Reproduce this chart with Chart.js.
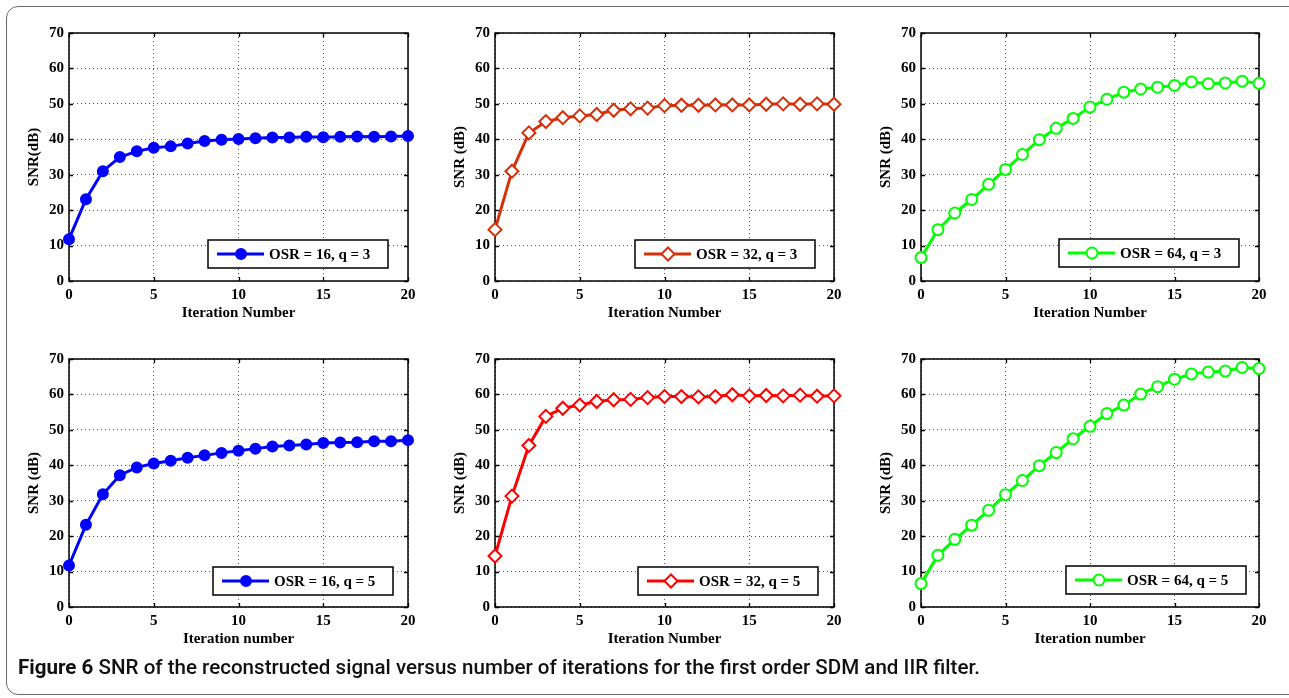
<!DOCTYPE html>
<html>
<head>
<meta charset="utf-8">
<script src="https://cdn.jsdelivr.net/npm/chart.js@4/dist/chart.umd.min.js"></script>
<style>
  html, body { margin:0; padding:0; background:#fff; width:1289px; height:698px; overflow:hidden; }
  #frame { position:absolute; left:6px; top:6px; width:1300px; height:689px; border:1.5px solid #6a6a6a; border-radius:12px; box-sizing:border-box; }
  canvas { position:absolute; }
  #caption { position:absolute; left:18px; top:655px; font-family:Roboto,"Noto Sans",sans-serif; font-size:21px; font-weight:500; color:#111; white-space:nowrap; transform-origin:0 0; }
  #caption b { font-weight:700; }
</style>
</head>
<body>
<div id="frame"></div>
<canvas id="c1"></canvas><canvas id="c2"></canvas><canvas id="c3"></canvas>
<canvas id="c4"></canvas><canvas id="c5"></canvas><canvas id="c6"></canvas>
<div id="caption"><b>Figure 6</b> SNR of the reconstructed signal versus number of iterations for the first order SDM and IIR filter.</div>
<script>
// ---- data ----
const iterations = [0,1,2,3,4,5,6,7,8,9,10,11,12,13,14,15,16,17,18,19,20];
const xTickValues = [0,5,10,15,20];
const yTickValues = [0,10,20,30,40,50,60,70];

const snrOsr16q3 = [11.8,23.1,31.0,35.0,36.6,37.6,38.0,38.8,39.5,39.9,40.1,40.3,40.5,40.5,40.7,40.6,40.7,40.8,40.7,40.8,40.9];
const snrOsr32q3 = [14.5,31.0,41.8,45.0,46.1,46.6,47.0,48.2,48.6,48.8,49.5,49.6,49.6,49.7,49.7,49.7,49.9,50.0,49.9,50.0,49.9];
const snrOsr64q3 = [6.6,14.5,19.2,23.0,27.3,31.5,35.7,39.9,43.1,45.9,49.1,51.3,53.3,54.2,54.7,55.2,56.2,55.7,55.9,56.4,55.8];
const snrOsr16q5 = [11.7,23.2,31.8,37.2,39.4,40.5,41.3,42.1,42.8,43.5,44.1,44.7,45.3,45.6,45.9,46.3,46.4,46.5,46.8,46.8,47.1];
const snrOsr32q5 = [14.4,31.3,45.6,53.8,56.1,57.0,58.0,58.5,58.6,59.1,59.4,59.4,59.3,59.4,59.9,59.6,59.7,59.6,59.8,59.5,59.6];
const snrOsr64q5 = [6.6,14.6,19.1,23.1,27.3,31.7,35.7,39.9,43.6,47.5,51.0,54.6,57.0,60.1,62.2,64.3,65.8,66.3,66.6,67.6,67.3];

const seriesLabels = ['OSR = 16, q = 3','OSR = 32, q = 3','OSR = 64, q = 3','OSR = 16, q = 5','OSR = 32, q = 5','OSR = 64, q = 5'];
const yTitles = ['SNR(dB)','SNR (dB)','SNR (dB)','SNR (dB)','SNR (dB)','SNR (dB)'];
const xTitles = ['Iteration Number','Iteration Number','Iteration Number','Iteration number','Iteration Number','Iteration number'];
const seriesValues = [snrOsr16q3, snrOsr32q3, snrOsr64q3, snrOsr16q5, snrOsr32q5, snrOsr64q5];

// ---- styles / layout ----
const styles = [
  {color:'#0000ff', marker:'circle', fill:'#0000ff', radius:5},
  {color:'#d6300a', marker:'rectRot', fill:'#ffffff', radius:6.5},
  {color:'#00ff00', marker:'circle', fill:'#ffffff', radius:5.5},
  {color:'#0000ff', marker:'circle', fill:'#0000ff', radius:5},
  {color:'#ff0000', marker:'rectRot', fill:'#ffffff', radius:6.5},
  {color:'#00ff00', marker:'circle', fill:'#ffffff', radius:5.5}
];
// chart area [left, top, right, bottom] in page pixels
const areas = [[69,33,408,281],[495,33,834,281],[921,33,1259,281],[69,359,408,607],[495,359,834,607],[921,359,1259,607]];
// legend box inset from chart area right / bottom
const legendInsets = [[20,13],[19,13],[20,14],[15,12],[16,12],[13,13]];
const PAD_L = 60, PAD_T = 25, PAD_R = 25, PAD_B = 50;

const axisFont = {family:'"Liberation Serif","Times New Roman",serif', size:15, weight:'bold'};

const framePlugin = {
  id:'framePlugin',
  beforeDatasetsDraw(chart) {
    const {ctx, chartArea:a, scales} = chart;
    ctx.save();
    ctx.strokeStyle = '#000';
    ctx.lineWidth = 1.3;
    ctx.beginPath();
    const tl = 4;
    scales.x.ticks.forEach(t => {
      const px = Math.round(scales.x.getPixelForValue(t.value)) + 0.5;
      ctx.moveTo(px, a.bottom); ctx.lineTo(px, a.bottom - tl);
      ctx.moveTo(px, a.top); ctx.lineTo(px, a.top + tl);
    });
    scales.y.ticks.forEach(t => {
      const py = Math.round(scales.y.getPixelForValue(t.value)) + 0.5;
      ctx.moveTo(a.left, py); ctx.lineTo(a.left + tl, py);
      ctx.moveTo(a.right, py); ctx.lineTo(a.right - tl, py);
    });
    ctx.stroke();
    ctx.lineWidth = 1.5;
    ctx.strokeRect(a.left, a.top, a.right - a.left, a.bottom - a.top);
    ctx.restore();
  }
};

const boxLegendPlugin = {
  id:'boxLegend',
  afterDatasetsDraw(chart, args, opts) {
    const {ctx, chartArea:a} = chart;
    const ds = chart.data.datasets[0];
    const w = 180, h = 28;
    const x = a.right - opts.inset[0] - w;
    const y = a.bottom - opts.inset[1] - h;
    ctx.save();
    ctx.fillStyle = '#fff';
    ctx.fillRect(x, y, w, h);
    ctx.strokeStyle = '#000';
    ctx.lineWidth = 1.5;
    ctx.strokeRect(x, y, w, h);
    const cy = y + h / 2;
    ctx.strokeStyle = ds.borderColor;
    ctx.lineWidth = ds.borderWidth;
    ctx.beginPath();
    ctx.moveTo(x + 9, cy); ctx.lineTo(x + 56, cy);
    ctx.stroke();
    ctx.fillStyle = ds.pointBackgroundColor;
    ctx.strokeStyle = ds.pointBorderColor;
    ctx.lineWidth = ds.pointBorderWidth;
    Chart.helpers.drawPoint(ctx, {pointStyle: ds.pointStyle, radius: ds.pointRadius, borderWidth: ds.pointBorderWidth, rotation:0}, x + 33, cy);
    ctx.fillStyle = '#000';
    ctx.font = 'bold 15px "Liberation Serif","Times New Roman",serif';
    ctx.textBaseline = 'middle';
    ctx.textAlign = 'left';
    ctx.fillText(ds.label, x + 61, cy + 1);
    ctx.restore();
  }
};

seriesValues.forEach((vals, i) => {
  const [L, T, R, B] = areas[i];
  const cv = document.getElementById('c' + (i + 1));
  const W = R - L + PAD_L + PAD_R, H = B - T + PAD_T + PAD_B;
  cv.width = W; cv.height = H;
  cv.style.left = (L - PAD_L) + 'px'; cv.style.top = (T - PAD_T) + 'px';
  cv.style.width = W + 'px'; cv.style.height = H + 'px';
  const st = styles[i];
  new Chart(cv, {
    type:'line',
    data:{
      datasets:[{
        label: seriesLabels[i],
        data: iterations.map((it, k) => ({x: it, y: vals[k]})),
        borderColor: st.color,
        borderWidth: 3,
        pointStyle: st.marker,
        pointRadius: st.radius,
        pointBorderWidth: 2,
        pointBorderColor: st.color,
        pointBackgroundColor: st.fill,
        tension: 0,
        clip: false
      }]
    },
    options:{
      responsive:false, animation:false, maintainAspectRatio:false,
      devicePixelRatio:1,
      layout:{padding:{left:0, top:PAD_T, right:PAD_R, bottom:0}},
      plugins:{legend:{display:false}, tooltip:{enabled:false}, boxLegend:{inset: legendInsets[i]}},
      scales:{
        x:{
          type:'linear', min:0, max:20,
          afterBuildTicks: s => { s.ticks = xTickValues.map(v => ({value:v})); },
          afterFit: s => { s.height = PAD_B; },
          grid:{color:'#555', lineWidth:1, drawTicks:false},
          border:{display:false, dash:[1,3]},
          ticks:{padding:5, font:axisFont, color:'#000', maxRotation:0, autoSkip:false},
          title:{display:true, text:xTitles[i], font:axisFont, color:'#000', padding:{top:0, bottom:9}}
        },
        y:{
          type:'linear', min:0, max:70,
          afterBuildTicks: s => { s.ticks = yTickValues.map(v => ({value:v})); },
          afterFit: s => { s.width = PAD_L; },
          grid:{color:'#555', lineWidth:1, drawTicks:false},
          border:{display:false, dash:[1,3]},
          ticks:{padding:5, font:axisFont, color:'#000', autoSkip:false},
          title:{display:true, text:yTitles[i], font:axisFont, color:'#000', padding:{top:16, bottom:0}}
        }
      }
    },
    plugins:[framePlugin, boxLegendPlugin]
  });
});

// fit caption to the reference width
const cap = document.getElementById('caption');
const cw = cap.getBoundingClientRect().width;
cap.style.transform = 'scaleX(' + (962 / cw) + ')';
</script>
</body>
</html>
